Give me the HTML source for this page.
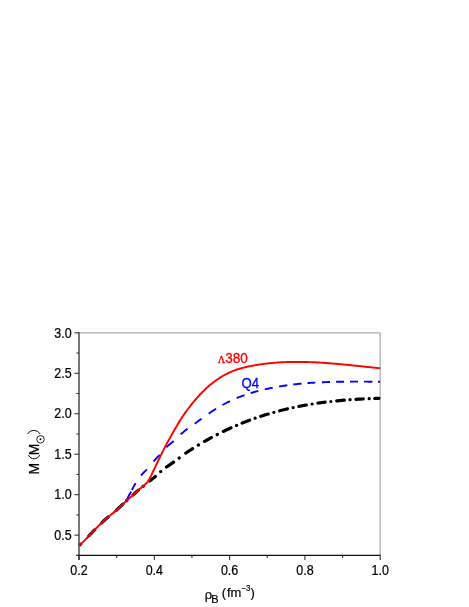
<!DOCTYPE html>
<html><head><meta charset="utf-8"><title>chart</title>
<style>
html,body{margin:0;padding:0;background:#fff;}
body{width:469px;height:607px;overflow:hidden;font-family:"Liberation Sans",sans-serif;}
svg{display:block;}
text{font-family:"Liberation Sans",sans-serif;}
</style></head><body>
<svg width="469" height="607" viewBox="0 0 469 607">
<defs><filter id="ident" x="0" y="0" width="469" height="607" filterUnits="userSpaceOnUse" color-interpolation-filters="sRGB"><feColorMatrix type="matrix" values="1 0 0 0 0  0 1 0 0 0  0 0 1 0 0  0 0 0 1 0"/></filter></defs>
<rect width="469" height="607" fill="#fff"/>
<!-- frame -->
<line x1="79.0" y1="332.8" x2="380.2" y2="332.8" stroke="#adadad" stroke-width="1.15"/>
<line x1="380.2" y1="332.8" x2="380.2" y2="555.4" stroke="#bcbcbc" stroke-width="1.6"/>
<!-- curves -->
<g fill="none" stroke-linejoin="round" stroke-linecap="butt">
<path d="M80.1,544.7 L80.7,544.1 M89.0,535.8 L89.9,534.8 L90.8,533.8 L91.8,532.8 L92.7,531.8 L93.6,530.8 L94.5,529.9 M101.8,522.8 L102.7,521.9 L103.6,521.0 L104.5,520.2 L105.5,519.4 L106.4,518.5 L107.3,517.8 L108.2,517.0 M116.6,510.0 L117.5,509.2 L118.4,508.3 L119.3,507.5 L120.2,506.7 L121.1,505.8 L122.0,505.0 L122.9,504.1 M133.1,494.9 L134.0,494.1 L134.9,493.3 L135.8,492.5 L136.6,491.7 L137.5,490.9 L138.4,490.1 M149.6,481.1 L150.6,480.3 L151.5,479.5 L152.5,478.7 L153.5,478.0 L154.4,477.2 L155.4,476.4 M166.5,467.0 L167.4,466.4 L168.3,465.8 L169.2,465.2 L170.1,464.6 L170.9,464.0 L171.8,463.4 L172.7,462.7 L173.6,462.1 M185.8,453.1 L186.8,452.5 L187.7,451.8 L188.7,451.2 L189.7,450.5 L190.7,449.9 L191.6,449.3 L192.6,448.6 M204.6,441.4 L205.6,440.8 L206.5,440.2 L207.5,439.7 L208.5,439.2 L209.5,438.6 L210.4,438.1 L211.4,437.6 M223.3,431.4 L224.3,431.0 L225.2,430.5 L226.2,430.1 L227.1,429.6 L228.1,429.2 L229.1,428.7 L230.0,428.3 L231.0,427.8 M242.1,423.1 L243.0,422.7 L244.0,422.3 L244.9,422.0 L245.8,421.6 L246.8,421.3 L247.7,420.9 L248.7,420.5 L249.6,420.2 M260.8,416.3 L261.7,416.0 L262.6,415.7 L263.6,415.4 L264.5,415.1 L265.4,414.8 L266.4,414.5 L267.3,414.2 L268.2,414.0 M279.7,410.8 L280.7,410.5 L281.7,410.3 L282.6,410.0 L283.6,409.8 L284.6,409.5 L285.6,409.3 L286.5,409.1 L287.5,408.8 M298.9,406.4 L299.8,406.2 L300.8,406.0 L301.7,405.8 L302.6,405.7 L303.5,405.5 L304.4,405.3 L305.4,405.2 L306.3,405.0 M317.9,403.1 L318.8,403.0 L319.7,402.9 L320.6,402.8 L321.5,402.6 L322.4,402.5 L323.3,402.4 L324.2,402.3 L325.1,402.2 M336.7,400.9 L337.7,400.8 L338.6,400.7 L339.6,400.6 L340.6,400.5 L341.5,400.4 L342.5,400.3 L343.4,400.2 L344.4,400.2 M355.9,399.3 L356.8,399.3 L357.8,399.2 L358.7,399.2 L359.6,399.1 L360.5,399.1 L361.4,399.0 L362.4,399.0 L363.3,398.9 M374.7,398.5 L375.5,398.4 L376.3,398.4 L377.2,398.4 L378.0,398.4 L378.8,398.3 M126.7,500.5 L126.8,500.4 M143.1,486.4 L143.2,486.3 M160.6,471.6 L160.8,471.6 M179.1,458.0 L179.2,457.9 M198.3,445.1 L198.5,445.0 M217.2,434.5 L217.4,434.4 M236.5,425.4 L236.7,425.4 M255.1,418.2 L255.2,418.2 M273.8,412.3 L273.9,412.3 M293.1,407.6 L293.2,407.6 M312.1,404.0 L312.2,404.0 M330.8,401.5 L330.9,401.5 M349.9,399.7 L350.1,399.7 M369.1,398.7 L369.2,398.7" stroke="#000" stroke-width="3.2" stroke-linecap="round"/>
<path d="M79.0,545.4 L80.0,544.8 L81.0,543.8 M87.1,537.8 L88.1,536.8 L89.1,535.8 L90.1,534.7 L91.0,533.6 L92.0,532.5 L93.0,531.4 L94.0,530.4 M100.3,524.2 L101.2,523.3 L102.1,522.5 L103.0,521.6 L103.9,520.8 L104.8,520.0 L105.7,519.1 L106.6,518.3 L107.5,517.6 M113.5,512.7 L114.4,511.9 L115.3,511.1 L116.2,510.3 L117.2,509.5 L118.1,508.7 L119.0,507.8 L119.9,507.0 L120.8,506.1 M126.7,500.1 L127.6,498.1 L128.5,496.3 L129.3,494.7 L130.2,493.2 L131.1,491.6 M132.0,489.9 L132.9,488.1 L133.8,486.4 L134.7,484.7 L135.6,483.1 M141.0,475.5 L142.0,474.4 L143.0,473.3 L143.9,472.3 L144.9,471.4 L145.9,470.4 L146.9,469.3 M153.5,461.3 L154.4,460.3 L155.3,459.4 L156.2,458.5 L157.0,457.6 L157.9,456.7 L158.8,455.8 L159.7,454.9 M166.4,447.3 L167.3,446.4 L168.2,445.6 L169.1,444.8 L170.1,444.1 L171.0,443.3 L171.9,442.6 L172.8,441.8 L173.7,441.0 M180.6,434.3 L181.6,433.5 L182.6,432.7 L183.6,431.9 L184.5,431.1 L185.5,430.3 L186.5,429.6 L187.5,428.8 M194.7,423.7 L195.7,423.0 L196.7,422.2 L197.7,421.5 L198.6,420.8 L199.6,420.1 L200.6,419.4 L201.6,418.7 M208.7,413.6 L209.6,413.0 L210.5,412.3 L211.5,411.7 L212.4,411.1 L213.3,410.5 L214.2,409.9 L215.2,409.3 L216.1,408.7 M222.4,405.0 L223.3,404.5 L224.3,404.0 L225.2,403.5 L226.2,403.0 L227.1,402.5 L228.0,402.0 L229.0,401.6 L229.9,401.1 M236.6,398.1 L237.6,397.7 L238.6,397.3 L239.6,396.9 L240.6,396.6 L241.5,396.2 L242.5,395.8 L243.5,395.5 L244.5,395.1 M250.7,393.1 L251.6,392.8 L252.6,392.5 L253.6,392.2 L254.5,392.0 L255.4,391.7 L256.4,391.4 L257.4,391.2 L258.3,390.9 M264.8,389.4 L265.8,389.1 L266.8,388.9 L267.8,388.7 L268.8,388.5 L269.7,388.3 L270.7,388.1 L271.7,387.9 L272.7,387.7 M279.1,386.5 L280.0,386.4 L280.9,386.2 L281.8,386.1 L282.7,385.9 L283.7,385.8 L284.6,385.7 L285.5,385.5 L286.4,385.4 L287.3,385.3 M293.3,384.5 L294.2,384.4 L295.1,384.3 L296.0,384.2 L296.9,384.1 L297.9,384.0 L298.8,383.9 L299.7,383.8 L300.6,383.7 L301.5,383.6 M307.5,383.1 L308.5,383.0 L309.4,383.0 L310.4,382.9 L311.4,382.8 L312.4,382.8 L313.4,382.7 L314.3,382.6 L315.3,382.6 M322.0,382.2 L323.0,382.2 L324.0,382.2 L325.0,382.1 L326.0,382.1 L327.0,382.1 L328.0,382.0 L329.0,382.0 L330.0,382.0 M336.1,381.8 L337.1,381.8 L338.1,381.8 L339.1,381.8 L340.1,381.7 L341.1,381.7 L342.1,381.7 L343.1,381.7 L344.1,381.7 M350.0,381.7 L351.0,381.6 L352.0,381.6 L353.0,381.6 L354.0,381.6 L355.0,381.6 L356.0,381.6 L357.0,381.6 L358.0,381.6 M364.1,381.6 L365.0,381.6 L365.9,381.6 L366.9,381.6 L367.8,381.6 L368.7,381.7 L369.6,381.7 L370.6,381.7 L371.5,381.7 L372.4,381.7 M378.0,381.7 L379.0,381.7 L380.0,381.7" stroke="#0000ff" stroke-width="1.9"/>
<path d="M79.0,545.4 L79.7,545.0 L80.5,544.3 L81.2,543.6 L82.0,542.9 L82.7,542.2 L83.5,541.4 L84.2,540.7 L85.0,539.9 L85.7,539.2 L86.5,538.4 L87.2,537.7 L88.0,536.9 L88.7,536.1 L89.5,535.3 L90.2,534.5 L91.0,533.7 L91.7,532.8 L92.5,532.0 L93.2,531.2 L94.0,530.4 L94.7,529.7 L95.5,528.9 L96.2,528.2 L97.0,527.4 L97.7,526.7 L98.5,525.9 L99.2,525.2 L100.0,524.5 L100.7,523.8 L101.5,523.1 L102.2,522.4 L103.0,521.7 L103.7,521.0 L104.5,520.3 L105.2,519.6 L106.0,518.9 L106.7,518.3 L107.5,517.6 L108.2,517.0 L109.0,516.4 L109.7,515.8 L110.4,515.2 L111.2,514.6 L111.9,514.0 L112.7,513.4 L113.4,512.8 L114.2,512.1 L114.9,511.5 L115.7,510.8 L116.4,510.1 L117.2,509.5 L117.9,508.8 L118.7,508.1 L119.4,507.4 L120.2,506.7 L120.9,506.0 L121.7,505.3 L122.4,504.6 L123.2,503.9 L123.9,503.1 L124.7,502.4 L125.4,501.7 L126.2,500.9 L126.9,500.3 L127.7,499.6 L128.4,499.0 L129.2,498.4 L129.9,497.7 L130.7,497.1 L131.4,496.4 L132.2,495.8 L132.9,495.1 L133.7,494.4 L134.4,493.7 L135.2,493.1 L135.9,492.4 L136.7,491.7 L137.4,491.0 L138.2,490.3 L138.9,489.6 L139.6,489.0 L140.4,488.4 L141.1,487.9 L141.9,487.3 L142.6,486.8 L143.4,486.2 L144.1,485.5 L144.9,484.7 L145.6,484.0 L146.4,483.2 L147.1,482.3 L147.9,481.4 L148.6,480.2 L149.4,478.9 L150.1,477.6 L150.9,476.1 L151.6,474.6 L152.4,472.9 L153.1,471.3 L153.9,469.7 L154.6,468.2 L155.4,466.6 L156.1,465.1 L156.9,463.5 L157.6,461.9 L158.4,460.3 L159.1,458.7 L159.9,457.2 L160.6,455.6 L161.4,454.1 L162.1,452.6 L162.9,451.1 L163.6,449.6 L164.4,448.1 L165.1,446.7 L165.9,445.3 L166.6,443.9 L167.4,442.6 L168.1,441.2 L168.9,439.9 L169.6,438.6 L170.3,437.3 L171.1,435.9 L171.8,434.6 L172.6,433.3 L173.3,431.9 L174.1,430.6 L174.8,429.3 L175.6,428.0 L176.3,426.7 L177.1,425.4 L177.8,424.1 L178.6,422.9 L179.3,421.6 L180.1,420.4 L180.8,419.2 L181.6,418.1 L182.3,416.9 L183.1,415.8 L183.8,414.7 L184.6,413.6 L185.3,412.6 L186.1,411.5 L186.8,410.5 L187.6,409.5 L188.3,408.5 L189.1,407.5 L189.8,406.6 L190.6,405.6 L191.3,404.7 L192.1,403.7 L192.8,402.8 L193.6,401.9 L194.3,401.0 L195.1,400.1 L195.8,399.2 L196.6,398.4 L197.3,397.5 L198.1,396.7 L198.8,395.9 L199.5,395.0 L200.3,394.2 L201.0,393.5 L201.8,392.7 L202.5,391.9 L203.3,391.2 L204.0,390.4 L204.8,389.7 L205.5,389.0 L206.3,388.3 L207.0,387.6 L207.8,387.0 L208.5,386.3 L209.3,385.6 L210.0,385.0 L210.8,384.4 L211.5,383.8 L212.3,383.2 L213.0,382.6 L213.8,382.0 L214.5,381.4 L215.3,380.9 L216.0,380.3 L216.8,379.8 L217.5,379.3 L218.3,378.8 L219.0,378.3 L219.8,377.8 L220.5,377.3 L221.3,376.9 L222.0,376.4 L222.8,376.0 L223.5,375.5 L224.3,375.1 L225.0,374.7 L225.8,374.3 L226.5,373.9 L227.3,373.6 L228.0,373.2 L228.8,372.8 L229.5,372.5 L230.2,372.1 L231.0,371.8 L231.7,371.5 L232.5,371.2 L233.2,370.9 L234.0,370.6 L234.7,370.3 L235.5,370.0 L236.2,369.8 L237.0,369.5 L237.7,369.3 L238.5,369.0 L239.2,368.8 L240.0,368.6 L240.7,368.4 L241.5,368.2 L242.2,368.0 L243.0,367.8 L243.7,367.6 L244.5,367.4 L245.2,367.2 L246.0,367.0 L246.7,366.9 L247.5,366.7 L248.2,366.5 L249.0,366.4 L249.7,366.2 L250.5,366.1 L251.2,365.9 L252.0,365.8 L252.7,365.6 L253.5,365.5 L254.2,365.4 L255.0,365.2 L255.7,365.1 L256.5,365.0 L257.2,364.9 L258.0,364.7 L258.7,364.6 L259.5,364.5 L260.2,364.4 L260.9,364.3 L261.7,364.2 L262.4,364.1 L263.2,364.0 L263.9,363.9 L264.7,363.8 L265.4,363.7 L266.2,363.6 L266.9,363.5 L267.7,363.4 L268.4,363.3 L269.2,363.3 L269.9,363.2 L270.7,363.1 L271.4,363.0 L272.2,363.0 L272.9,362.9 L273.7,362.8 L274.4,362.8 L275.2,362.7 L275.9,362.6 L276.7,362.6 L277.4,362.5 L278.2,362.5 L278.9,362.4 L279.7,362.4 L280.4,362.3 L281.2,362.3 L281.9,362.2 L282.7,362.2 L283.4,362.2 L284.2,362.1 L284.9,362.1 L285.7,362.1 L286.4,362.0 L287.2,362.0 L287.9,362.0 L288.7,362.0 L289.4,361.9 L290.1,361.9 L290.9,361.9 L291.6,361.9 L292.4,361.9 L293.1,361.9 L293.9,361.9 L294.6,361.9 L295.4,361.9 L296.1,361.9 L296.9,361.9 L297.6,361.9 L298.4,361.9 L299.1,361.9 L299.9,361.9 L300.6,361.9 L301.4,361.9 L302.1,361.9 L302.9,361.9 L303.6,361.9 L304.4,361.9 L305.1,362.0 L305.9,362.0 L306.6,362.0 L307.4,362.0 L308.1,362.0 L308.9,362.1 L309.6,362.1 L310.4,362.1 L311.1,362.1 L311.9,362.2 L312.6,362.2 L313.4,362.2 L314.1,362.3 L314.9,362.3 L315.6,362.3 L316.4,362.4 L317.1,362.4 L317.9,362.5 L318.6,362.5 L319.4,362.5 L320.1,362.6 L320.8,362.6 L321.6,362.7 L322.3,362.7 L323.1,362.8 L323.8,362.8 L324.6,362.9 L325.3,362.9 L326.1,363.0 L326.8,363.0 L327.6,363.1 L328.3,363.2 L329.1,363.2 L329.8,363.3 L330.6,363.3 L331.3,363.4 L332.1,363.5 L332.8,363.5 L333.6,363.6 L334.3,363.6 L335.1,363.7 L335.8,363.8 L336.6,363.8 L337.3,363.9 L338.1,364.0 L338.8,364.0 L339.6,364.1 L340.3,364.2 L341.1,364.2 L341.8,364.3 L342.6,364.4 L343.3,364.5 L344.1,364.5 L344.8,364.6 L345.6,364.7 L346.3,364.7 L347.1,364.8 L347.8,364.9 L348.6,365.0 L349.3,365.0 L350.0,365.1 L350.8,365.2 L351.5,365.3 L352.3,365.4 L353.0,365.4 L353.8,365.5 L354.5,365.6 L355.3,365.7 L356.0,365.7 L356.8,365.8 L357.5,365.9 L358.3,366.0 L359.0,366.1 L359.8,366.1 L360.5,366.2 L361.3,366.3 L362.0,366.4 L362.8,366.5 L363.5,366.5 L364.3,366.6 L365.0,366.7 L365.8,366.8 L366.5,366.9 L367.3,366.9 L368.0,367.0 L368.8,367.1 L369.5,367.2 L370.3,367.2 L371.0,367.3 L371.8,367.4 L372.5,367.5 L373.3,367.6 L374.0,367.6 L374.8,367.7 L375.5,367.8 L376.3,367.9 L377.0,368.0 L377.8,368.0 L378.5,368.1 L379.3,368.2 L380.0,368.3" stroke="#ff0000" stroke-width="1.95"/>
</g>
<line x1="79.0" y1="332.3" x2="79.0" y2="560.0" stroke="#4a4a4a" stroke-width="1.5"/>
<line x1="76.4" y1="555.4" x2="380.7" y2="555.4" stroke="#111" stroke-width="1.1"/>
<g stroke="#333" stroke-width="1.1">
<line x1="76.40" y1="555.40" x2="79.00" y2="555.40"/>
<line x1="74.40" y1="535.16" x2="79.00" y2="535.16"/>
<line x1="76.40" y1="514.93" x2="79.00" y2="514.93"/>
<line x1="74.40" y1="494.69" x2="79.00" y2="494.69"/>
<line x1="76.40" y1="474.45" x2="79.00" y2="474.45"/>
<line x1="74.40" y1="454.22" x2="79.00" y2="454.22"/>
<line x1="76.40" y1="433.98" x2="79.00" y2="433.98"/>
<line x1="74.40" y1="413.75" x2="79.00" y2="413.75"/>
<line x1="76.40" y1="393.51" x2="79.00" y2="393.51"/>
<line x1="74.40" y1="373.27" x2="79.00" y2="373.27"/>
<line x1="76.40" y1="353.04" x2="79.00" y2="353.04"/>
<line x1="74.40" y1="332.80" x2="79.00" y2="332.80"/>
<line x1="79.00" y1="555.40" x2="79.00" y2="560.00"/>
<line x1="116.65" y1="555.40" x2="116.65" y2="558.00"/>
<line x1="154.30" y1="555.40" x2="154.30" y2="560.00"/>
<line x1="191.95" y1="555.40" x2="191.95" y2="558.00"/>
<line x1="229.60" y1="555.40" x2="229.60" y2="560.00"/>
<line x1="267.25" y1="555.40" x2="267.25" y2="558.00"/>
<line x1="304.90" y1="555.40" x2="304.90" y2="560.00"/>
<line x1="342.55" y1="555.40" x2="342.55" y2="558.00"/>
<line x1="380.20" y1="555.40" x2="380.20" y2="560.00"/>
</g>
<g filter="url(#ident)">
<g font-size="13.8px" fill="#000" stroke="#000" stroke-width="0.22">
<text transform="translate(71.6,539.86) scale(0.905,1)" text-anchor="end">0.5</text>
<text transform="translate(71.6,499.39) scale(0.905,1)" text-anchor="end">1.0</text>
<text transform="translate(71.6,458.92) scale(0.905,1)" text-anchor="end">1.5</text>
<text transform="translate(71.6,418.45) scale(0.905,1)" text-anchor="end">2.0</text>
<text transform="translate(71.6,377.97) scale(0.905,1)" text-anchor="end">2.5</text>
<text transform="translate(71.6,337.50) scale(0.905,1)" text-anchor="end">3.0</text>
<text transform="translate(79.00,575.2) scale(0.905,1)" text-anchor="middle">0.2</text>
<text transform="translate(154.30,575.2) scale(0.905,1)" text-anchor="middle">0.4</text>
<text transform="translate(229.60,575.2) scale(0.905,1)" text-anchor="middle">0.6</text>
<text transform="translate(304.90,575.2) scale(0.905,1)" text-anchor="middle">0.8</text>
<text transform="translate(380.20,575.2) scale(0.905,1)" text-anchor="middle">1.0</text>
</g>
<g font-size="14px" fill="#000" stroke="#000" stroke-width="0.2">
<text transform="translate(38.9,474.6) rotate(-90)">M</text>
<text transform="translate(38.9,455.3) rotate(-90)">M</text>
</g>
<path d="M28.5,455.2 C31,460.0 37.2,460.0 39.7,455.2" fill="none" stroke="#000" stroke-width="1.0"/>
<path d="M27.5,434.0 C30.2,429.3 37.4,429.3 40.1,434.0" fill="none" stroke="#000" stroke-width="1.0"/>
<circle cx="40.5" cy="439.3" r="3.75" fill="none" stroke="#000" stroke-width="0.85"/>
<circle cx="40.5" cy="439.3" r="0.95" fill="#000"/>
<g font-size="13px" fill="#000" stroke="#000" stroke-width="0.2">
<text x="204.7" y="599.3">ρ</text>
<text x="211.2" y="602.8" font-size="11px">B</text>
<text x="221.7" y="596.5">(</text>
<text x="227.0" y="596.5">fm</text>
<text transform="translate(241.3,590.7) scale(0.92,1)" font-size="8.6px">−3</text>
<text x="250.4" y="596.5">)</text>
</g>
</g>
<g font-size="14.6px" stroke-width="0.32" filter="url(#ident)">
<text x="217.7" y="362.8" font-family="Liberation Serif" font-size="10.4px" fill="#ff0000" stroke="#ff0000" stroke-width="0.35" style="font-family:'Liberation Serif',serif">Λ</text>
<text transform="translate(225.2,362.9) scale(0.93,1)" fill="#ff0000" stroke="#ff0000">380</text>
<text transform="translate(241.5,387.5) scale(0.90,1)" fill="#0000ff" stroke="#0000ff">Q4</text>
</g>
</svg>
</body></html>
